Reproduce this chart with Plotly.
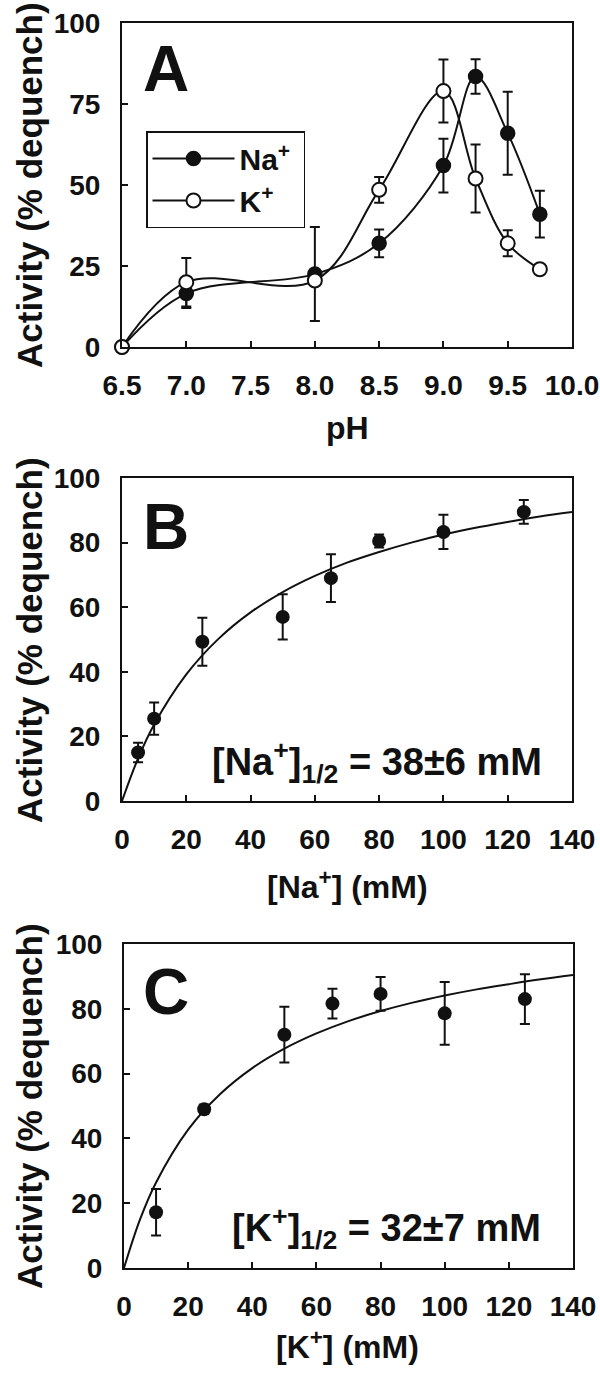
import plotly.graph_objects as go

# ---------------- Panel A: pH dependence ----------------
ph = [6.5, 7.0, 8.0, 8.5, 9.0, 9.25, 9.5, 9.75]
na_ph = [0, 16.5, 22.5, 32, 56, 83.5, 66, 41]
na_ph_err = [0, 4.5, 14.5, 4.3, 8.3, 5.3, 12.8, 7.2]
k_ph = [0, 20, 20.5, 48.5, 79, 52, 32, 24]
k_ph_err = [0, 7.5, 0, 4, 9.7, 10.5, 4, 0]

# ---------------- Panel B: [Na+] dependence ----------------
na_conc = [5, 10, 25, 50, 65, 80, 100, 125]
na_act = [15, 25.5, 49.3, 57, 69, 80.5, 83.3, 89.5]
na_act_err = [3, 5, 7.4, 7, 7.4, 2, 5.3, 3.7]
na_fit_x = [0, 5, 10, 20, 30, 40, 50, 60, 70, 80, 90, 100, 110, 120, 130, 140]
na_fit_y = [0, 13.2, 23.7, 39.2, 50.2, 58.4, 64.7, 69.7, 73.8, 77.1, 80, 82.5, 84.6, 86.4, 88.1, 89.5]

# ---------------- Panel C: [K+] dependence ----------------
k_conc = [10, 25, 50, 65, 80, 100, 125]
k_act = [17.2, 49, 72, 81.6, 84.6, 78.6, 83]
k_act_err = [7.2, 1.5, 8.6, 4.6, 5.2, 9.7, 7.7]
k_fit_x = [0, 5, 10, 20, 30, 40, 50, 60, 70, 80, 90, 100, 110, 120, 130, 140]
k_fit_y = [0, 15, 26.4, 42.7, 53.7, 61.7, 67.7, 72.4, 76.2, 79.3, 81.9, 84.1, 86, 87.6, 89.1, 90.4]

ph_ticks = [6.5, 7.0, 7.5, 8.0, 8.5, 9.0, 9.5, 10.0]
ph_ticktext = ["6.5", "7.0", "7.5", "8.0", "8.5", "9.0", "9.5", "10.0"]
a_yticks = [0, 25, 50, 75, 100]
bc_yticks = [0, 20, 40, 60, 80, 100]
conc_ticks = [0, 20, 40, 60, 80, 100, 120, 140]

W, H = 600, 1378
FONT = "Arial, 'Liberation Sans', sans-serif"
BLACK = "#111111"

fig = go.Figure()

err_style = dict(type="data", thickness=2, width=5, color=BLACK)

# Panel A traces
fig.add_trace(go.Scatter(
    x=ph, y=na_ph, mode="lines+markers", name="Na<sup>+</sup>\u00a0",
    line=dict(color=BLACK, width=2, shape="spline", smoothing=1.0),
    marker=dict(size=14, color=BLACK, line=dict(color=BLACK, width=1.5)),
    error_y=dict(array=na_ph_err, **err_style),
    cliponaxis=False, xaxis="x", yaxis="y", showlegend=True))
fig.add_trace(go.Scatter(
    x=ph, y=k_ph, mode="lines+markers", name="K<sup>+</sup>",
    line=dict(color=BLACK, width=2, shape="spline", smoothing=1.0),
    marker=dict(size=14, color="white", line=dict(color=BLACK, width=2)),
    error_y=dict(array=k_ph_err, **err_style),
    cliponaxis=False, xaxis="x", yaxis="y", showlegend=True))

# Panel B traces
fig.add_trace(go.Scatter(
    x=na_fit_x, y=na_fit_y, mode="lines",
    line=dict(color=BLACK, width=2, shape="spline", smoothing=1.0),
    cliponaxis=False, xaxis="x2", yaxis="y2", showlegend=False))
fig.add_trace(go.Scatter(
    x=na_conc, y=na_act, mode="markers",
    marker=dict(size=14, color=BLACK),
    error_y=dict(array=na_act_err, **err_style),
    cliponaxis=False, xaxis="x2", yaxis="y2", showlegend=False))

# Panel C traces
fig.add_trace(go.Scatter(
    x=k_fit_x, y=k_fit_y, mode="lines",
    line=dict(color=BLACK, width=2, shape="spline", smoothing=1.0),
    cliponaxis=False, xaxis="x3", yaxis="y3", showlegend=False))
fig.add_trace(go.Scatter(
    x=k_conc, y=k_act, mode="markers",
    marker=dict(size=14, color=BLACK),
    error_y=dict(array=k_act_err, **err_style),
    cliponaxis=False, xaxis="x3", yaxis="y3", showlegend=False))


def px_x(p):
    return p / W


def px_y(p):
    return 1 - p / H


tickfont = dict(family=FONT, size=28, color=BLACK, weight="bold")
axis_common = dict(showline=True, linecolor=BLACK, linewidth=2, mirror=True,
                   ticks="inside", ticklen=6, tickwidth=2, tickcolor=BLACK,
                   showgrid=False, zeroline=False, tickfont=tickfont,
                   automargin=False, ticklabeloverflow="allow")

panels = [
    ("xaxis", "yaxis", (122, 572), (23, 347)),
    ("xaxis2", "yaxis2", (122, 572), (478, 801)),
    ("xaxis3", "yaxis3", (124, 573), (944, 1268)),
]

layout = dict(width=W, height=H, margin=dict(l=0, r=0, t=0, b=0, autoexpand=False),
              paper_bgcolor="white", plot_bgcolor="white",
              font=dict(family=FONT, color=BLACK))

for i, (xk, yk, (xl, xr), (yt, yb)) in enumerate(panels):
    anchor_x = "y" if i == 0 else f"y{i+1}"
    anchor_y = "x" if i == 0 else f"x{i+1}"
    xd = dict(axis_common, domain=[px_x(xl), px_x(xr)], anchor=anchor_x,
              ticklabelstandoff=12)
    yd = dict(axis_common, domain=[px_y(yb), px_y(yt)], anchor=anchor_y,
              ticklabelstandoff=14)
    if i == 0:
        xd.update(range=[6.5, 10.0], tickvals=ph_ticks, ticktext=ph_ticktext)
        yd.update(range=[0, 100], tickvals=a_yticks)
    else:
        xd.update(range=[0, 140], tickvals=conc_ticks)
        yd.update(range=[0, 100], tickvals=bc_yticks)
    layout[xk] = xd
    layout[yk] = yd

layout["legend"] = dict(x=px_x(146), y=px_y(131), xanchor="left", yanchor="top",
                        bgcolor="white", bordercolor=BLACK, borderwidth=1.5,
                        font=dict(family=FONT, size=30, color=BLACK, weight="bold"),
                        itemwidth=82, tracegroupgap=0)

fig.update_layout(**layout)

annots = []
ytitle_font = dict(family=FONT, size=35, color=BLACK, weight="bold")
xtitle_font = dict(family=FONT, size=32, color=BLACK, weight="bold")
letter_font = dict(family=FONT, size=64, color=BLACK, weight="bold")
note_font = dict(family=FONT, size=38, color=BLACK, weight="bold")

for yc in [185, 640, 1106]:
    annots.append(dict(text="Activity (% dequench)", textangle=-90,
                       x=px_x(29), y=px_y(yc), xref="paper", yref="paper",
                       showarrow=False, font=ytitle_font, xanchor="center", yanchor="middle"))

for txt, yc in [("pH", 428), ("[Na<sup>+</sup>] (mM)", 885), ("[K<sup>+</sup>] (mM)", 1345)]:
    annots.append(dict(text=txt, x=px_x(347), y=px_y(yc), xref="paper", yref="paper",
                       showarrow=False, font=xtitle_font, xanchor="center", yanchor="middle"))

for txt, yc in [("A", 69), ("B", 527), ("C", 992)]:
    annots.append(dict(text=txt, x=px_x(166), y=px_y(yc), xref="paper", yref="paper",
                       showarrow=False, font=letter_font, xanchor="center", yanchor="middle"))

annots.append(dict(text="[Na<sup>+</sup>]<sub>1/2</sub> = 38±6 mM", x=px_x(377), y=px_y(762),
                   xref="paper", yref="paper", showarrow=False, font=note_font,
                   xanchor="center", yanchor="middle"))
annots.append(dict(text="[K<sup>+</sup>]<sub>1/2</sub> = 32±7 mM", x=px_x(386), y=px_y(1228),
                   xref="paper", yref="paper", showarrow=False, font=note_font,
                   xanchor="center", yanchor="middle"))

fig.update_layout(annotations=annots)

fig.write_html(
    "out.html",
    config={"displayModeBar": False},
    post_script="document.body.style.margin='0';document.body.style.padding='0';"
                "document.documentElement.style.overflow='hidden';"
                "document.body.style.overflow='hidden';")
